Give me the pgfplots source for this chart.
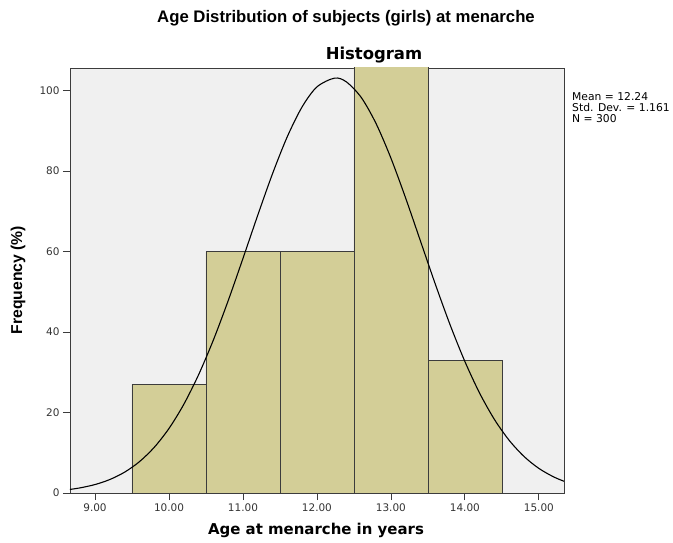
\documentclass[border=0pt]{standalone}
\usepackage{pgfplots}
\pgfplotsset{compat=1.18}
\usepackage{fontspec}
\setmainfont{DejaVu Sans}
\newfontfamily\arialf{Liberation Sans}
\definecolor{bgc}{RGB}{240,240,240}
\definecolor{barc}{RGB}{211,206,151}
\definecolor{axc}{RGB}{60,60,60}
\begin{document}
\begin{tikzpicture}
\path (-70bp,-50bp) rectangle (603bp,493bp);
\begin{axis}[
  at={(0,0)}, anchor=origin,
  scale only axis, width=494bp, height=425bp,
  xmin=8.662, xmax=15.34, ymin=0, ymax=105.6,
  axis background/.style={fill=bgc},
  axis line style={axc, line width=0.8pt},
  xtick={9,10,11,12,13,14,15},
  ytick={0,20,40,60,80,100},
  tick align=outside, major tick length=7bp,
  tick style={axc, line width=0.8pt},
  xtick pos=bottom, ytick pos=left,
  /pgf/number format/assume math mode=true,
  xticklabel style={font=\fontsize{10.5}{13}\selectfont, text=black!80, /pgf/number format/.cd, fixed, fixed zerofill, precision=2},
  yticklabel style={font=\fontsize{10.5}{13}\selectfont, text=black!80},
  clip=true,
]
\addplot[ybar interval, fill=barc, draw=axc, line width=0.6pt] coordinates {
(9.5,27) (10.5,60) (11.5,60) (12.5,120) (13.5,33) (14.5,0)};
\addplot[smooth, black, line width=1.1pt, mark=none] coordinates {
(8.66,0.889) (8.8,1.279) (9.0,2.099) (9.2,3.345) (9.4,5.174) (9.6,7.772) (9.8,11.33)
(10.0,16.03) (10.2,22.02) (10.4,29.37) (10.6,38.01) (10.8,47.77) (11.0,58.28)
(11.2,69.02) (11.4,79.35) (11.6,88.56) (11.8,95.95) (12.0,100.91) (12.24,103.09)
(12.4,102.12) (12.6,98.25) (12.8,91.77) (13.0,83.21) (13.2,73.24) (13.4,62.58)
(13.6,51.91) (13.8,41.80) (14.0,32.68) (14.2,24.79) (14.4,18.26) (14.6,13.06)
(14.8,9.07) (15.0,6.11) (15.2,4.00) (15.34,2.92)};
\end{axis}
\node[font=\arialf\fontsize{16.8}{19}\selectfont\bfseries] at (276bp,475bp) {Age Distribution of subjects (girls) at menarche};
\node[font=\fontsize{16.5}{18}\selectfont\bfseries] at (304bp,438bp) {Histogram};
\node[font=\fontsize{15}{18}\selectfont\bfseries] at (246bp,-37bp) {Age at menarche in years};
\node[font=\arialf\fontsize{15.8}{18}\selectfont\bfseries, rotate=90] at (-52bp,213bp) {Frequency (\%)};
\node[font=\fontsize{10.8}{11}\selectfont, align=left, anchor=north west, inner sep=0pt] at (502bp,400.5bp) {Mean = 12.24\\Std. Dev. = 1.161\\N = 300};
\end{tikzpicture}
\end{document}
